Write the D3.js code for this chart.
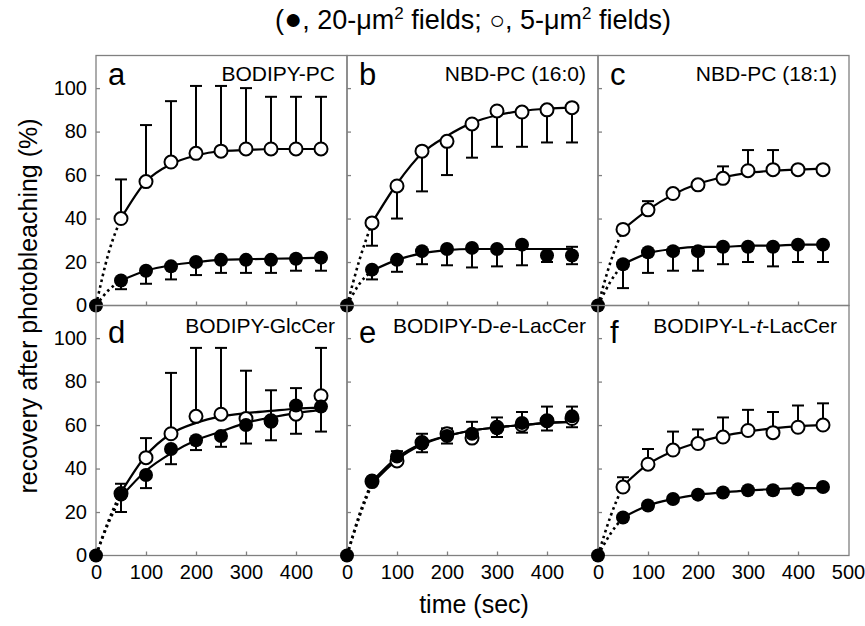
<!DOCTYPE html>
<html>
<head>
<meta charset="utf-8">
<script src="https://cdn.jsdelivr.net/npm/d3@7"></script>
<style>
body { margin: 0; background: #fff; }
text { font-family: "Liberation Sans", Arial, sans-serif; fill: #000; }
</style>
</head>
<body>
<script>
// FRAP recovery, six probes, two field sizes

var times = [50, 100, 150, 200, 250, 300, 350, 400, 450];
var fitTimes = [0, 25, 50, 100, 150, 200, 250, 300, 350, 400, 450];
var letters = ["a", "b", "c", "d", "e", "f"];
var names = [
    ["BODIPY-PC"], ["NBD-PC (16:0)"], ["NBD-PC (18:1)"],
    ["BODIPY-GlcCer"], ["BODIPY-D-", "e", "-LacCer"], ["BODIPY-L-", "t", "-LacCer"]
];
var yTicks = [0, 20, 40, 60, 80, 100];
var xTicks = [100, 200, 300, 400];
var xLabels = [[0, 100, 200, 300, 400], [0, 100, 200, 300, 400], [0, 100, 200, 300, 400, 500]];

// open circles, 5-um2 fields
var openVals = [
    [40, 57, 66, 70, 71, 72, 72, 72, 72],
    [38, 55, 71, 75.5, 83.5, 89.5, 89, 90, 91],
    [35, 44, 51.5, 55.5, 58.5, 62, 62.5, 62.5, 62.5],
    [28.5, 45, 56, 64, 65, 63, 62, 65, 73.5],
    [34, 43.5, 52, 56, 54, 59, 60, 62, 63],
    [31.5, 42, 48.5, 51.5, 54.5, 57.5, 56.5, 59, 60]
];
var openHi = [
    [58, 83, 94, 101, 101, 100, 96, 96, 96],
    [null, null, null, null, null, null, null, null, null],
    [null, 48, null, null, 64, 71.5, 71.5, null, null],
    [33, 54, 84, 95.5, 95.5, 85, 76, 77, 95.5],
    [null, null, null, null, null, null, null, null, null],
    [36, 49, 57, 58, 63.5, 67, 66, 69, 70]
];
var openLo = [
    [null, null, null, null, null, null, null, null, null],
    [27.5, 40, 52.5, 60, 68, 73, 73, 75, 75],
    [null, null, null, null, null, null, null, null, null],
    [null, null, null, null, null, null, null, null, null],
    [null, null, null, null, null, null, null, null, null],
    [null, null, null, null, null, null, null, null, null]
];
// filled circles, 20-um2 fields
var filledVals = [
    [11.5, 16, 18, 20, 21, 21, 21, 21.5, 22],
    [16.5, 21, 25, 26, 26.5, 26, 28, 23, 23],
    [19, 24.5, 25, 25, 27, 27, 27, 28, 28],
    [28, 37, 49, 53, 55, 60, 61.5, 69, 68.5],
    [34.5, 45.5, 51.5, 55, 56, 58.5, 61, 62, 64],
    [17.5, 23, 26, 28, 29, 30, 30, 30.5, 31.5]
];
var filledHi = [
    [null, null, null, null, null, null, null, null, null],
    [null, null, null, null, null, null, null, 26, 27],
    [null, null, null, null, null, null, null, null, null],
    [null, null, null, null, null, null, null, null, null],
    [null, 48, 56, 58.5, 61.5, 63.5, 66, 68.5, 68.5],
    [null, null, null, null, null, null, null, null, null]
];
var filledLo = [
    [7.5, 10, 12, 14, 15, 15, 15, 16, 16],
    [12, 15.5, 19, 18.5, 17.5, 18, 18.5, 20, 19],
    [8, 15, 16, 16, 19, 20, 18, 20, 20],
    [20, 31, 42, 48.5, 50, 51.5, 53, 56, 57],
    [null, null, 47.5, 51.5, 53.5, 54.5, 56.5, 57.5, 59],
    [null, null, null, null, null, null, null, null, null]
];
// fitted curves read at fitTimes
var openFit = [
    [0, 24, 40, 57, 65, 69, 71, 71.5, 72, 72, 72],
    [0, 21, 38, 56, 70, 78, 84, 87.5, 89.5, 90.5, 91],
    [0, 20, 35, 44, 51, 56, 59, 61, 62, 62.5, 63],
    [0, 16, 29, 46, 56, 61, 64, 65.5, 66.5, 67.5, 68],
    [0, 18, 33, 44, 51, 55, 57.5, 59, 60, 61, 61.5],
    [0, 18, 32, 42, 48, 52, 55, 57, 58.5, 59.5, 60]
];
var filledFit = [
    [0, 7, 11.5, 16, 18.5, 20, 21, 21.3, 21.5, 21.7, 22],
    [0, 10, 16, 21, 24, 25.5, 26, 26, 26, 26, 26],
    [0, 11, 19, 24, 26, 27, 27, 27.5, 27.5, 28, 28],
    [0, 15, 27, 39, 47, 53, 57, 61, 63.5, 65.5, 67],
    [0, 19, 34, 45, 51.5, 55, 57.5, 59, 60, 61, 61.5],
    [0, 10, 17.5, 23, 26, 28, 29, 30, 30.5, 31, 31]
];

var left0 = 96, top0 = 55.5, panelW = 251, panelH = 250;
var frameColor = "#808080";

var svg = d3.select("body").append("svg")
    .attr("width", 865)
    .attr("height", 626);

var x = d3.scaleLinear().domain([0, 502]).range([0, panelW]);
var y = d3.scaleLinear().domain([0, 115]).range([panelH, 0]);

var line = d3.line()
    .x(function(d) { return x(d[0]); })
    .y(function(d) { return y(d[1]); })
    .curve(d3.curveMonotoneX);

var drawPanel = function(i) {
    var col = i % 3, row = Math.floor(i / 3);
    var g = svg.append("g")
        .attr("transform", "translate(" + (left0 + col * panelW) + "," + (top0 + row * panelH) + ")");

    // frame
    g.append("rect")
        .attr("width", panelW).attr("height", panelH)
        .style("fill", "none").style("stroke", frameColor).style("stroke-width", 1.3);

    // inward ticks
    var ya = g.append("g").call(d3.axisRight(y).tickValues(yTicks).tickSize(4).tickFormat(""));
    var xa = g.append("g").attr("transform", "translate(0," + panelH + ")")
        .call(d3.axisTop(x).tickValues(xTicks).tickSize(4).tickFormat(""));
    [ya, xa].forEach(function(a) {
        a.select(".domain").remove();
        a.selectAll("line").style("stroke", frameColor).style("stroke-width", 1.3);
    });

    // tick labels on outer panels only
    if (col == 0) {
        var yl = g.append("g").call(d3.axisLeft(y).tickValues(yTicks).tickSize(0).tickPadding(9));
        yl.select(".domain").remove();
        yl.selectAll("text").style("font-size", "20px").style("font-family", "'Liberation Sans', Arial, sans-serif");
    }
    if (row == 1) {
        var xl = g.append("g").attr("transform", "translate(0," + panelH + ")")
            .call(d3.axisBottom(x).tickValues(xLabels[col]).tickSize(0).tickPadding(9.5));
        xl.select(".domain").remove();
        xl.selectAll("text").style("font-size", "20px").style("font-family", "'Liberation Sans', Arial, sans-serif");
    }

    // fitted curves: dotted to the first point, solid after
    [openFit[i], filledFit[i]].forEach(function(fit) {
        var pts = fitTimes.map(function(t, k) { return [t, fit[k]]; });
        g.append("path")
            .attr("d", line(pts.slice(0, 3)))
            .style("fill", "none").style("stroke", "#000").style("stroke-width", 2.6)
            .style("stroke-dasharray", "2.6,3.4");
        g.append("path")
            .attr("d", line(pts.slice(2)))
            .style("fill", "none").style("stroke", "#000").style("stroke-width", 2.2);
    });

    // error bars
    var bars = [
        [openVals[i], openHi[i]], [openVals[i], openLo[i]],
        [filledVals[i], filledHi[i]], [filledVals[i], filledLo[i]]
    ];
    bars.forEach(function(b) {
        times.forEach(function(t, k) {
            var end = b[1][k];
            if (end == null) return;
            g.append("line")
                .attr("x1", x(t)).attr("x2", x(t))
                .attr("y1", y(b[0][k])).attr("y2", y(end))
                .style("stroke", "#000").style("stroke-width", 2);
            g.append("line")
                .attr("x1", x(t) - 6).attr("x2", x(t) + 6)
                .attr("y1", y(end)).attr("y2", y(end))
                .style("stroke", "#000").style("stroke-width", 2);
        });
    });

    // markers
    g.selectAll("circle.open").data(openVals[i]).enter().append("circle")
        .attr("class", "open")
        .attr("cx", function(d, k) { return x(times[k]); })
        .attr("cy", function(d) { return y(d); })
        .attr("r", 6.5)
        .style("fill", "#fff").style("stroke", "#000").style("stroke-width", 2);
    g.selectAll("circle.filled").data(filledVals[i]).enter().append("circle")
        .attr("class", "filled")
        .attr("cx", function(d, k) { return x(times[k]); })
        .attr("cy", function(d) { return y(d); })
        .attr("r", 7)
        .style("fill", "#000");
    g.append("circle")
        .attr("cx", x(0)).attr("cy", y(0)).attr("r", 7)
        .style("fill", "#000");

    // panel letter and probe name
    g.append("text")
        .attr("x", 12).attr("y", row == 0 ? 29 : 37.5)
        .style("font-size", "31px")
        .text(letters[i]);
    var nm = g.append("text")
        .attr("x", panelW - 12).attr("y", row == 0 ? 25 : 27)
        .attr("text-anchor", "end")
        .style("font-size", "21px");
    names[i].forEach(function(s, k) {
        nm.append("tspan").text(s).style("font-style", k == 1 ? "italic" : "normal");
    });
}

for (var i = 0; i < 6; i++) drawPanel(i);

// axis titles
svg.append("text")
    .attr("transform", "translate(37,306) rotate(-90)")
    .attr("text-anchor", "middle")
    .style("font-size", "25px")
    .text("recovery after photobleaching (%)");
svg.append("text")
    .attr("x", 474).attr("y", 613)
    .attr("text-anchor", "middle")
    .style("font-size", "25px")
    .text("time (sec)");

// legend line at top
var title = svg.append("text")
    .attr("x", 473).attr("y", 29)
    .attr("text-anchor", "middle")
    .style("font-size", "27px");
title.append("tspan").text("(");
title.append("tspan").text("\u25CF").style("font-size", "30px");
title.append("tspan").text(", 20-\u03BCm");
title.append("tspan").text("2").attr("dy", -10).style("font-size", "17px");
title.append("tspan").text(" fields; ").attr("dy", 10);
title.append("tspan").text("\u25CB").style("font-size", "26px");
title.append("tspan").text(", 5-\u03BCm");
title.append("tspan").text("2").attr("dy", -10).style("font-size", "17px");
title.append("tspan").text(" fields)").attr("dy", 10);
</script>
</body>
</html>
